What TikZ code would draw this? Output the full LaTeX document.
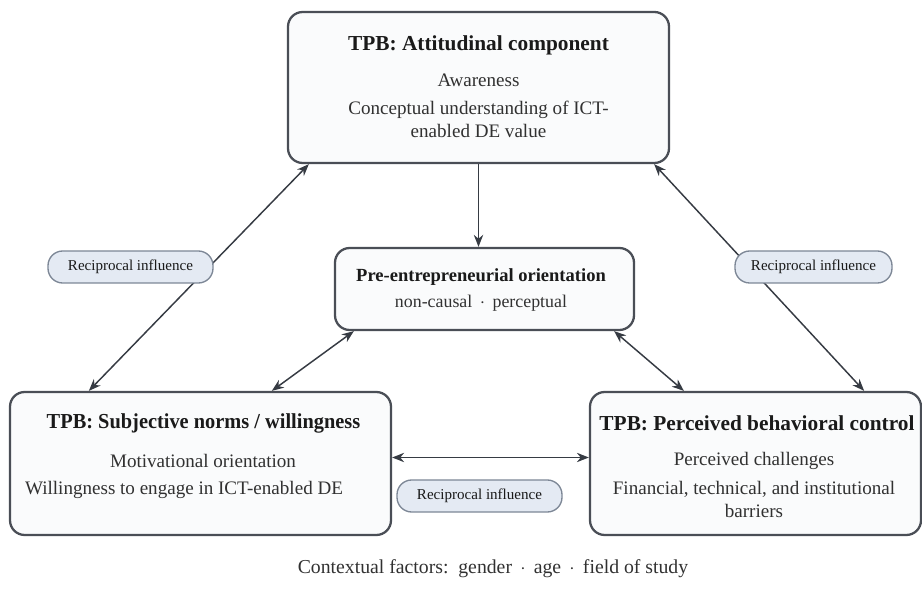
\documentclass[tikz,border=0pt]{standalone}
\usepackage{fontspec}
\setmainfont{Liberation Serif}
\usetikzlibrary{arrows.meta,calc}
\definecolor{boxline}{HTML}{4A4E56}
\definecolor{boxfill}{HTML}{FAFBFC}
\definecolor{pillfill}{HTML}{E4EAF3}
\definecolor{pillline}{HTML}{7D8796}
\definecolor{arrcol}{HTML}{363B43}
\definecolor{txt}{HTML}{1A1A1A}
\tikzset{
  bigbox/.style={draw=boxline,line width=1.7pt,fill=boxfill,rounded corners=11pt,inner sep=0pt},
  pill/.style={draw=pillline,line width=1pt,fill=pillfill,rounded corners=11pt,inner sep=0pt,
    font=\fontsize{11.3}{13}\selectfont,text=txt},
  ttl/.style={font=\bfseries\fontsize{16}{19}\selectfont,text=txt,inner sep=0pt},
  bdy/.style={font=\fontsize{14.3}{17}\selectfont,text=txt!90!white,inner sep=0pt},
  arr/.style={draw=arrcol,line width=1.1pt,-{Stealth[length=9pt,width=7pt]}},
  darr/.style={draw=arrcol,line width=1.1pt,{Stealth[length=9pt,width=7pt]}-{Stealth[length=9pt,width=7pt]}},
}
\begin{document}
\begin{tikzpicture}[x=0.75pt,y=-0.75pt]
\useasboundingbox (0,0) rectangle (922,602);
% boxes
\node[bigbox,minimum width=381*0.75pt,minimum height=151*0.75pt] (top) at (478.5,87.5) {};
\node[bigbox,minimum width=299*0.75pt,minimum height=82*0.75pt] (cen) at (484.5,289) {};
\node[bigbox,minimum width=381*0.75pt,minimum height=143*0.75pt] (lft) at (200.5,463.5) {};
\node[bigbox,minimum width=331*0.75pt,minimum height=143*0.75pt] (rgt) at (755.5,463.5) {};
% connectors
\draw[arr] (top.south) -- (top.south |- cen.north);
\draw[darr] ([xshift=80*0.75pt]lft.north west) -- ([xshift=22*0.75pt]top.south west);
\draw[darr] ([xshift=-16*0.75pt]top.south east) -- ([xshift=-58*0.75pt]rgt.north east);
\draw[darr] ([xshift=20*0.75pt]cen.south west) -- ([xshift=263*0.75pt]lft.north west);
\draw[darr] ([xshift=-21*0.75pt]cen.south east) -- ([xshift=95*0.75pt]rgt.north west);
\draw[darr] ([yshift=6*0.75pt]lft.east) -- ([yshift=6*0.75pt]rgt.west);
% pills
\node[pill,minimum width=165*0.75pt,minimum height=32*0.75pt] (p1) at (130.5,267) {Reciprocal influence};
\node[pill,minimum width=157*0.75pt,minimum height=32*0.75pt] (p2) at (813.5,267) {Reciprocal influence};
\node[pill,minimum width=165*0.75pt,minimum height=32*0.75pt] (p3) at (479.5,496) {Reciprocal influence};
% texts top
\node[ttl] (t1) at (478.5,45) {TPB: Attitudinal component};
\node[bdy] (t2) at (478.5,80) {Awareness};
\node[bdy] (t3) at (478.5,110) {Conceptual understanding of ICT-};
\node[bdy] (t4) at (478.5,131) {enabled DE value};
% center
\node[ttl,font=\bfseries\fontsize{13.9}{16}\selectfont] (c1) at (481,277) {Pre-entrepreneurial orientation};
\node[bdy,font=\fontsize{13.4}{16}\selectfont] (c2) at (481,303) {non-causal \,$\cdot$\, perceptual};
% left
\node[ttl] (l1) at (203.5,423) {\scalebox{0.955}[1]{TPB: Subjective norms / willingness}};
\node[bdy] (l2) at (203,461) {Motivational orientation};
\node[bdy] (l3) at (184,490) {Willingness to engage in ICT-enabled DE};
% right
\node[ttl] (r1) at (757,423) {TPB: Perceived behavioral control};
\node[bdy] (r2) at (754,461) {Perceived challenges};
\node[bdy] (r3) at (754,489) {Financial, technical, and institutional};
\node[bdy] (r4) at (754,511) {barriers};
% bottom
\node[bdy,font=\fontsize{14.8}{17}\selectfont] (ctx) at (493,569) {Contextual factors:\, gender \,$\cdot$\, age \,$\cdot$\, field of study};
\end{tikzpicture}
\end{document}
